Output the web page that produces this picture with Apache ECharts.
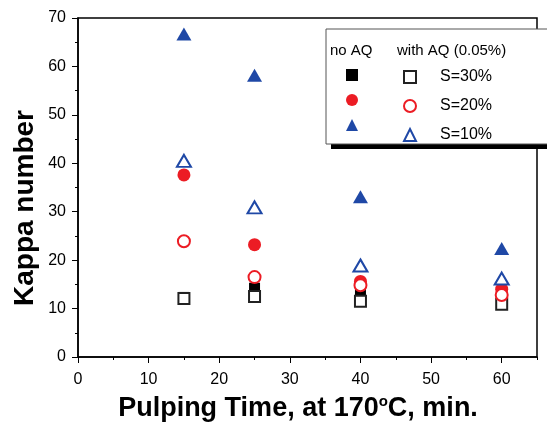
<!DOCTYPE html>
<html>
<head>
<meta charset="utf-8">
<script src="https://cdn.jsdelivr.net/npm/echarts@6/dist/echarts.min.js"></script>
<style>
  html, body { margin: 0; padding: 0; background: #fff; }
  #chart { width: 547px; height: 422px; }
</style>
</head>
<body>
<div id="chart"></div>
<script>
// pulping time (min)
var times = [15, 25, 40, 60];
// kappa numbers
var noAQ_S30 = [12.3, 14.2, 12.9, 11.6];
var withAQ_S30 = [12.1, 12.5, 11.5, 10.9];
var noAQ_S20 = [37.6, 23.2, 15.6, 14.0];
var withAQ_S20 = [23.9, 16.5, 14.8, 12.8];
var noAQ_S10 = [66.7, 58.2, 33.1, 22.4];
var withAQ_S10 = [40.5, 30.9, 18.9, 16.2];

var xLabels = [0, 10, 20, 30, 40, 50, 60];
var xMinor = [5, 15, 25, 35, 45, 55, 65];

var FONT = 'Liberation Sans, Arial, sans-serif';
var RED = '#ec1c24';
var BLUE = '#1f48a6';

function pts(ys) {
    return times.map(function (t, i) { return [t, ys[i]]; });
}

var chart = echarts.init(document.getElementById('chart'));

var labelMap = {
    'w30': 'S=30%', 'w20': 'S=20%', 'w10': 'S=10%'
};

var option = {
    animation: false,
    grid: {
        left: 78, right: 10, top: 18, bottom: 65,
        show: true, borderColor: '#000', borderWidth: 1.5
    },
    graphic: [
        // legend frame with its drop shadow
        { type: 'rect', shape: { x: 331, y: 34, width: 230, height: 115 }, style: { fill: '#000' }, z: 50 },
        { type: 'rect', shape: { x: 326, y: 29, width: 230, height: 115 }, style: { fill: '#fff', stroke: '#555', lineWidth: 1 }, z: 51 },
        { type: 'text', x: 330, y: 51, style: { text: 'no AQ', font: '15px ' + FONT, fill: '#000', verticalAlign: 'middle' }, z: 52 },
        { type: 'text', x: 397, y: 51, style: { text: 'with AQ (0.05%)', font: '15px ' + FONT, fill: '#000', verticalAlign: 'middle' }, z: 52 },
        // axis titles
        { type: 'text', x: 25, y: 208, rotation: Math.PI / 2,
          style: { text: 'Kappa number', font: 'bold 28px ' + FONT, fill: '#000', align: 'center', verticalAlign: 'middle' } },
        { type: 'text', x: 298, y: 409,
          style: {
              text: '{a|Pulping Time, at 170}{s|o}{a|C, min.}',
              align: 'center', verticalAlign: 'middle',
              rich: {
                  a: { fontFamily: FONT, fontWeight: 'bold', fontSize: 27, lineHeight: 30, fill: '#000' },
                  s: { fontFamily: FONT, fontWeight: 'bold', fontSize: 15, lineHeight: 8, verticalAlign: 'top', fill: '#000' }
              }
          } }
    ],
    legend: [
        {
            data: ['n30', 'n20', 'n10'],
            orient: 'vertical', left: 346, top: 69, padding: 0,
            itemWidth: 12, itemHeight: 12, itemGap: 13,
            formatter: function () { return ''; },
            selectedMode: false, z: 60
        },
        {
            data: ['w30', 'w20', 'w10'],
            orient: 'vertical', left: 403, top: 69, padding: 0,
            itemWidth: 12, itemHeight: 12, itemGap: 13,
            formatter: function (n) { return labelMap[n]; },
            textStyle: { fontFamily: FONT, fontSize: 16, color: '#000', padding: [0, 0, 0, 19] },
            selectedMode: false, z: 60
        }
    ],
    xAxis: [
        {
            type: 'value', min: 0, max: 65,
            axisLine: { lineStyle: { color: '#000', width: 1.5 } },
            axisTick: { show: true, length: 6, customValues: xLabels, lineStyle: { color: '#000' } },
            axisLabel: { customValues: xLabels, fontFamily: FONT, fontSize: 16, color: '#000', margin: 15 },
            splitLine: { show: false }
        },
        {
            type: 'value', min: 0, max: 65, position: 'bottom', gridIndex: 0,
            axisLine: { show: false },
            axisTick: { show: true, length: 3, customValues: xMinor, lineStyle: { color: '#000' } },
            axisLabel: { show: false },
            splitLine: { show: false }
        }
    ],
    yAxis: {
        type: 'value', min: 0, max: 70, interval: 10,
        axisLine: { show: true, lineStyle: { color: '#000', width: 1.5 } },
        axisTick: { show: true, length: 6, lineStyle: { color: '#000' } },
        minorTick: { show: true, splitNumber: 2, length: 3, lineStyle: { color: '#000' } },
        axisLabel: { fontFamily: FONT, fontSize: 16, color: '#000', margin: 12 },
        splitLine: { show: false }
    },
    series: [
        { name: 'n30', type: 'scatter', data: pts(noAQ_S30), symbol: 'rect', symbolSize: 11,
          itemStyle: { color: '#000', opacity: 1 }, z: 2 },
        { name: 'n20', type: 'scatter', data: pts(noAQ_S20), symbol: 'circle', symbolSize: 13,
          itemStyle: { color: RED, opacity: 1 }, z: 2 },
        { name: 'n10', type: 'scatter', data: pts(noAQ_S10), symbol: 'triangle', symbolSize: [15, 13],
          itemStyle: { color: BLUE, opacity: 1 }, z: 2 },
        { name: 'w30', type: 'scatter', data: pts(withAQ_S30), symbol: 'emptyRect', symbolSize: 11,
          itemStyle: { color: '#222', borderWidth: 1.8, opacity: 1 }, z: 3 },
        { name: 'w20', type: 'scatter', data: pts(withAQ_S20), symbol: 'emptyCircle', symbolSize: 12,
          itemStyle: { color: RED, borderWidth: 1.5, opacity: 1 }, z: 3 },
        { name: 'w10', type: 'scatter', data: pts(withAQ_S10), symbol: 'emptyTriangle', symbolSize: [14, 12],
          itemStyle: { color: BLUE, borderWidth: 1.5, opacity: 1 }, z: 3 }
    ]
};

chart.setOption(option);
</script>
</body>
</html>
